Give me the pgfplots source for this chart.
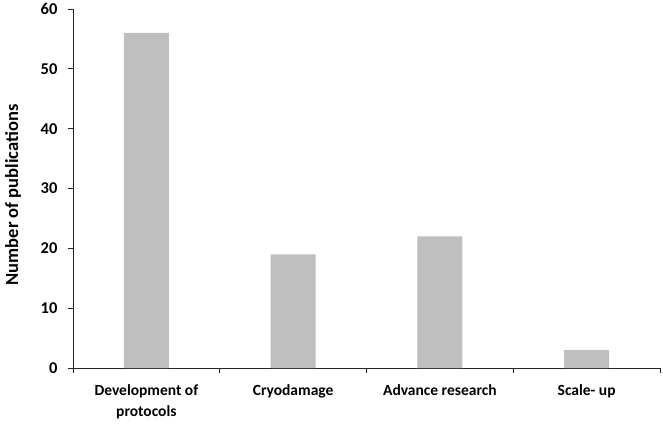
\documentclass[border=0pt]{standalone}
\usepackage{pgfplots}
\pgfplotsset{compat=1.18}
\usepackage{fontspec}
\setmainfont{Carlito}
\begin{document}
\begin{tikzpicture}
\useasboundingbox (-73pt,-57pt) rectangle (590pt,368pt);
\begin{axis}[
    scale only axis,
    width=587pt,
    height=359pt,
    at={(0,0)}, anchor=south west,
    ymin=0, ymax=60,
    ytick={0,10,...,60},
    xmin=-0.5, xmax=3.5,
    xtick={0,1,2,3},
    xticklabels={Development of\\protocols,Cryodamage,Advance research,Scale- up},
    x tick label style={align=center, font=\fontsize{15.5}{21}\selectfont\bfseries, yshift=-8pt},
    y tick label style={font=\fontsize{16.5}{18}\selectfont\bfseries, xshift=-7pt},
    minor xtick={-0.5,0.5,1.5,2.5,3.5},
    axis x line=bottom, axis y line=left,
    axis line style={-, black!85, line width=0.9pt},
    major x tick style={draw=none},
    minor x tick style={black!85, line width=0.9pt},
    y tick style={black!85, line width=0.9pt},
    tick align=outside,
    major tick length=5pt, minor tick length=5pt,
    ylabel={Number of publications},
    ylabel style={font=\fontsize{18.5}{20}\selectfont\bfseries,
        at={(rel axis cs:-0.102,0.482)}, anchor=center},
    /pgf/number format/assume math mode=true,
    ybar, bar width=45pt,
]
\addplot[fill=black!25, draw=none] coordinates {(0,56) (1,19) (2,22) (3,3)};
\end{axis}
\end{tikzpicture}
\end{document}
